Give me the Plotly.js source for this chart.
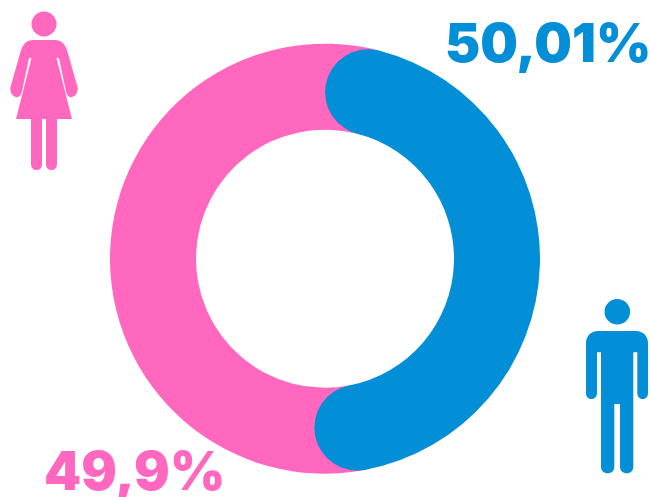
<!DOCTYPE html>
<html>
<head>
<meta charset="utf-8">
<script src="https://cdn.plot.ly/plotly-3.0.1.min.js"></script>
<style>html,body{margin:0;padding:0;background:#fff}#c{width:651px;height:497px}</style>
</head>
<body>
<div id="c"></div>
<script>
// Data
const labels = ["Hombres", "Mujeres"];
const shareLabels = ["50,01%", "49,9%"];
const shares = [50.01, 49.9];
const colors = ["#038ED8", "#FF68BE"];

// The rounded ends of the blue arc are part of its share: each takes about 12.75 degrees
const capDegrees = 12.75;
const startDegrees = 14.5;

const W = 651, H = 497, CX = 325, CY = 258.7, R = 215, HOLE = 0.6;
const capShare = (2 * capDegrees) / 3.6;
const values = [shares[0] - capShare, shares[1] + capShare];
const endDegrees = startDegrees + 3.6 * values[0] * 100 / (values[0] + values[1]);

const fx = x => x / W, fy = y => 1 - y / H;
function paperPath(pts) {
  return pts.replace(/(-?[\d.]+) (-?[\d.]+)/g, (m, a, b) => fx(+a).toFixed(5) + "," + fy(+b).toFixed(5));
}
function circle(cx, cy, r, color) {
  return {type: "circle", xref: "paper", yref: "paper", layer: "above", fillcolor: color, line: {width: 0},
    x0: fx(cx - r), x1: fx(cx + r), y0: fy(cy + r), y1: fy(cy - r)};
}
function icon(d, color) {
  return {type: "path", xref: "paper", yref: "paper", layer: "above", fillcolor: color, line: {width: 0}, path: paperPath(d)};
}
function capAt(deg, color) {
  const a = deg * Math.PI / 180, rm = R * (1 + HOLE) / 2, r = R * (1 - HOLE) / 2;
  return circle(CX + rm * Math.sin(a), CY - rm * Math.cos(a), r, color);
}

const woman = "M 33 40 L 55 40 C 61 40 65 44 67 50 L 77.5 87 C 78.5 92 75.5 96.5 71.5 97 C 68.5 97.5 67 95 66 91.5 L 59 58 L 56.5 58 L 72 119 L 57 119 L 57 164 C 57 168 54.5 170 51.5 170 C 48.5 170 46 168 46 164 L 46 119 L 42 119 L 42 164 C 42 168 39.5 170 36.5 170 C 33.5 170 31 168 31 164 L 31 119 L 16 119 L 31.5 58 L 29 58 L 22 91.5 C 21 95 19.5 97.5 16.5 97 C 12.5 96.5 9.5 92 10.5 87 L 21 50 C 23 44 27 40 33 40 Z";
const man = "M 598 331 L 636 331 C 643 331 648 336 648 343 L 648 393 C 648 397 645.5 399 642.7 399 C 640 399 637.3 397 637.3 393 L 637.3 352.3 L 633.3 352.3 L 633.3 466.5 C 633.3 471 630.5 473.3 626.7 473.3 C 623 473.3 620 471 620 466.5 L 620 404 L 614.3 404 L 614.3 466.5 C 614.3 471 611.5 473.3 607.7 473.3 C 604 473.3 601 471 601 466.5 L 601 352.3 L 597 352.3 L 597 393 C 597 397 594 399 591.5 399 C 588.5 399 586 397 586 393 L 586 343 C 586 336 591 331 598 331 Z";

const textFont = {family: "Inter, 'Open Sans', sans-serif", weight: 900, size: 53};

Plotly.newPlot("c", [{
  type: "pie",
  labels: labels,
  values: values,
  sort: false,
  direction: "clockwise",
  rotation: startDegrees,
  hole: HOLE,
  textinfo: "none",
  hoverinfo: "none",
  marker: {colors: colors, line: {width: 0}},
  domain: {x: [fx(CX - R), fx(CX + R)], y: [fy(CY + R), fy(CY - R)]},
  showlegend: false
}], {
  width: W, height: H,
  margin: {l: 0, r: 0, t: 0, b: 0},
  paper_bgcolor: "#fff",
  showlegend: false,
  shapes: [
    capAt(startDegrees, colors[0]),
    capAt(endDegrees, colors[0]),
    circle(44, 24, 12.5, colors[1]),
    icon(woman, colors[1]),
    circle(617.3, 311.7, 12.8, colors[0]),
    icon(man, colors[0])
  ],
  annotations: [
    {text: shareLabels[0], xref: "paper", yref: "paper", x: fx(653), y: fy(43), xanchor: "right", yanchor: "middle",
     showarrow: false, font: Object.assign({}, textFont, {color: colors[0]})},
    {text: shareLabels[1], xref: "paper", yref: "paper", x: fx(42), y: fy(471), xanchor: "left", yanchor: "middle",
     showarrow: false, font: Object.assign({}, textFont, {color: colors[1]})}
  ]
}, {displayModeBar: false, staticPlot: true});
</script>
</body>
</html>
